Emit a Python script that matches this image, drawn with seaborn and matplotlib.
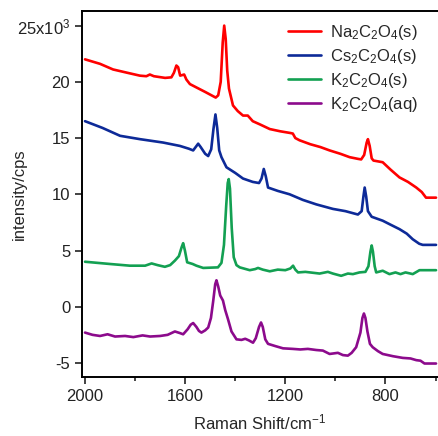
import matplotlib
matplotlib.use("Agg")
import matplotlib.pyplot as plt
from matplotlib.ticker import FixedLocator, FuncFormatter
import pandas as pd
import seaborn as sns

# Raman-Spektren, Intensitaet in 10^3 cps
na_shift = [2000, 1940, 1888, 1830, 1781, 1755, 1741, 1725, 1680, 1655, 1645, 1635, 1628, 1620,
            1612, 1604, 1595, 1581, 1555, 1520, 1478, 1468, 1458, 1450, 1444, 1438, 1432, 1425,
            1409, 1390, 1369, 1350, 1330, 1300, 1262, 1220, 1180, 1170, 1160, 1143, 1100, 1060,
            1023, 980, 943, 910, 897, 885, 875, 870, 863, 855, 848, 811, 780, 744, 710, 677,
            655, 638, 615, 598]
na_int = [22.0, 21.6, 21.1, 20.8, 20.55, 20.5, 20.65, 20.5, 20.35, 20.4, 20.8, 21.45, 21.3, 20.55,
          20.6, 20.65, 20.2, 19.8, 19.5, 19.1, 18.6, 18.8, 20.0, 23.5, 25.0, 23.8, 21.0, 19.4,
          17.9, 17.4, 17.0, 17.0, 16.5, 16.2, 15.8, 15.6, 15.45, 15.4, 15.0, 14.8, 14.45, 14.2,
          13.9, 13.6, 13.3, 13.15, 13.1, 13.5, 14.6, 14.9, 14.3, 13.2, 13.0, 12.85, 12.2, 11.5,
          11.1, 10.6, 10.2, 9.7, 9.7, 9.7]

cs_shift = [2000, 1930, 1860, 1780, 1688, 1621, 1585, 1568, 1558, 1548, 1538, 1520, 1508, 1496,
            1487, 1479, 1472, 1464, 1455, 1435, 1400, 1369, 1330, 1305, 1295, 1286, 1278, 1269,
            1230, 1183, 1130, 1076, 1010, 960, 910, 895, 888, 883, 877, 870, 855, 811, 780, 744,
            715, 691, 665, 651, 598]
cs_int = [16.5, 15.9, 15.2, 14.9, 14.6, 14.3, 14.05, 13.9, 14.2, 14.5, 14.2, 13.6, 13.4, 14.0,
          15.8, 17.1, 15.9, 13.9, 13.3, 12.4, 11.9, 11.4, 11.1, 11.0, 11.4, 12.25, 11.6, 10.6,
          10.3, 10.0, 9.5, 9.1, 8.7, 8.5, 8.2, 8.5, 9.8, 10.6, 9.8, 8.5, 8.0, 7.65, 7.3, 6.9,
          6.5, 6.0, 5.6, 5.5, 5.5]

ks_shift = [2000, 1900, 1821, 1760, 1734, 1710, 1681, 1660, 1641, 1625, 1614, 1608, 1601, 1592,
            1570, 1555, 1528, 1469, 1455, 1445, 1436, 1430, 1426, 1421, 1414, 1406, 1395, 1382,
            1342, 1320, 1309, 1290, 1262, 1230, 1200, 1180, 1169, 1160, 1149, 1120, 1063, 1030,
            1010, 977, 950, 930, 904, 880, 868, 860, 855, 850, 843, 837, 811, 784, 760, 740,
            720, 700, 691, 664, 640, 598]
ks_int = [4.0, 3.8, 3.65, 3.65, 3.85, 3.7, 3.55, 3.7, 4.1, 4.5, 5.3, 5.65, 5.0, 3.95,
          3.8, 3.65, 3.45, 3.5, 3.9, 5.5, 9.0, 11.0, 11.35, 10.5, 7.0, 4.4, 3.7, 3.5,
          3.25, 3.35, 3.45, 3.3, 3.15, 3.3, 3.25, 3.4, 3.65, 3.3, 3.05, 3.1, 2.95, 3.1,
          2.95, 2.75, 2.95, 2.9, 3.05, 3.1, 3.6, 4.9, 5.45, 4.9, 3.6, 3.05, 3.2, 2.9, 3.05, 2.9,
          3.05, 2.95, 2.9, 3.25, 3.25, 3.25]

kaq_shift = [2000, 1970, 1940, 1910, 1880, 1840, 1807, 1770, 1740, 1700, 1670, 1641, 1620, 1608,
             1590, 1578, 1568, 1555, 1545, 1535, 1520, 1508, 1497, 1488, 1480, 1475, 1468, 1460,
             1449, 1440, 1429, 1415, 1395, 1375, 1360, 1345, 1329, 1318, 1305, 1297, 1290, 1280,
             1269, 1240, 1209, 1170, 1140, 1110, 1076, 1050, 1023, 990, 970, 950, 935, 917,
             900, 892, 886, 880, 872, 862, 851, 830, 811, 770, 731, 700, 677, 660, 644, 598]
kaq_int = [-2.3, -2.5, -2.6, -2.45, -2.65, -2.6, -2.7, -2.55, -2.65, -2.6, -2.5, -2.2, -2.35, -2.45,
           -2.0, -1.6, -1.45, -1.8, -2.15, -2.3, -2.1, -1.85, -1.0, 0.5, 2.0, 2.35, 1.8, 1.0,
           0.55, -0.3, -1.1, -2.2, -2.9, -2.95, -2.85, -3.0, -3.2, -2.8, -1.8, -1.4, -1.8, -2.9,
           -3.3, -3.5, -3.7, -3.75, -3.8, -3.75, -3.85, -3.9, -4.2, -4.1, -4.3, -4.35, -4.1, -3.6,
           -2.3, -1.0, -0.6, -1.0, -2.2, -3.3, -3.6, -3.95, -4.2, -4.4, -4.55, -4.6, -4.75, -4.8,
           -5.05, -5.05]

labels = ["Na$_2$C$_2$O$_4$(s)", "Cs$_2$C$_2$O$_4$(s)", "K$_2$C$_2$O$_4$(s)", "K$_2$C$_2$O$_4$(aq)"]
colors = ["#ff0000", "#0d2a98", "#13a052", "#8c0a8c"]

frames = []
for lab, xs, ys in zip(labels, [na_shift, cs_shift, ks_shift, kaq_shift],
                       [na_int, cs_int, ks_int, kaq_int]):
    frames.append(pd.DataFrame({"shift": xs, "intensity": ys, "sample": lab}))
df = pd.concat(frames, ignore_index=True)

sns.set_style("ticks")
plt.rcParams["font.family"] = ["Liberation Sans", "DejaVu Sans"]
plt.rcParams["mathtext.fontset"] = "custom"
plt.rcParams["mathtext.rm"] = "Liberation Sans"
plt.rcParams["mathtext.it"] = "Liberation Sans"
plt.rcParams["mathtext.default"] = "regular"

fig = plt.figure(figsize=(4.39, 4.36), dpi=100)
ax = fig.add_axes([0.1868, 0.1353, 0.811, 0.8395])

sns.lineplot(data=df, x="shift", y="intensity", hue="sample", palette=dict(zip(labels, colors)),
             estimator=None, sort=False, linewidth=1.9, ax=ax)

ax.set_xlim(2012, 590)
ax.set_ylim(-6.25, 26.3)
ax.xaxis.set_major_locator(FixedLocator([2000, 1600, 1200, 800]))
ax.xaxis.set_minor_locator(FixedLocator([1800, 1400, 1000, 600]))
ax.yaxis.set_major_locator(FixedLocator([-5, 0, 5, 10, 15, 20, 25]))


def ylab(v, pos):
    if v == 25:
        return "25x10$^{3}$"
    return "%d" % v


ax.yaxis.set_major_formatter(FuncFormatter(ylab))
ax.tick_params(axis="both", which="major", direction="out", length=5, width=1.2,
               labelsize=12, colors="#222222")
ax.tick_params(axis="x", which="minor", direction="out", length=3, width=1.2)
for s in ["left", "bottom", "top"]:
    ax.spines[s].set_linewidth(1.4)
    ax.spines[s].set_color("black")
ax.spines["right"].set_visible(False)

ax.set_xlabel("Raman Shift/cm$^{-1}$", fontsize=12, labelpad=6)
ax.set_ylabel("intensity/cps", fontsize=12)
ax.yaxis.set_label_coords(-0.155, 0.5)

leg = ax.legend(loc="upper right", frameon=False, fontsize=12, handlelength=2.0,
                handletextpad=0.5, labelspacing=0.3, borderaxespad=0.3,
                bbox_to_anchor=(0.975, 1.0))

fig.savefig("out.png", dpi=100)
